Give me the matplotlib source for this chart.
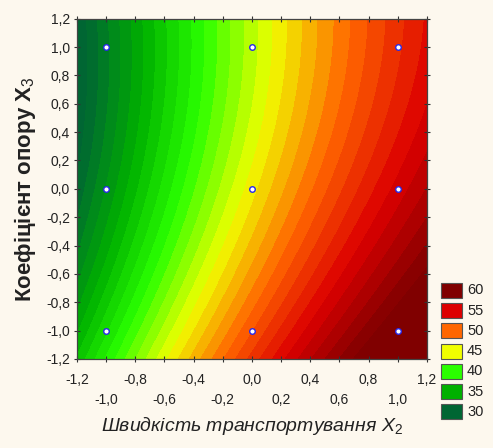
import numpy as np
import matplotlib
matplotlib.use("Agg")
import matplotlib.pyplot as plt
from matplotlib.colors import LinearSegmentedColormap, Normalize
from matplotlib.patches import Rectangle

plt.rcParams['font.family'] = ['Liberation Sans', 'DejaVu Sans']
plt.rcParams['mathtext.fontset'] = 'custom'
plt.rcParams['mathtext.rm'] = 'Liberation Sans'
plt.rcParams['mathtext.it'] = 'Liberation Sans:italic'

# design points (X2, X3) and response
x2_design = [-1, 0, 1]
x3_design = [1, 0, -1]
response = [
    [32.0, 43.5, 52.5],   # X3 = 1
    [32.5, 45.5, 56.0],   # X3 = 0
    [38.0, 51.0, 61.0],   # X3 = -1
]

legend_values = [30, 35, 40, 45, 50, 55, 60]
legend_colors = ['#006633', '#00B000', '#2AFF00', '#F0FF00', '#FF6600', '#DC0000', '#800000']

xticks = [-1.2, -1.0, -0.8, -0.6, -0.4, -0.2, 0.0, 0.2, 0.4, 0.6, 0.8, 1.0, 1.2]
yticks = [-1.2, -1.0, -0.8, -0.6, -0.4, -0.2, 0.0, 0.2, 0.4, 0.6, 0.8, 1.0, 1.2]

# fit full quadratic response surface to design points
X2, X3 = np.meshgrid(x2_design, x3_design)
Y = np.array(response)
def design(a, b):
    return np.column_stack([np.ones_like(a), a, b, a * b, a**2, b**2])
coef, *_ = np.linalg.lstsq(design(X2.ravel().astype(float), X3.ravel().astype(float)), Y.ravel(), rcond=None)

g2, g3 = np.meshgrid(np.linspace(-1.2, 1.2, 300), np.linspace(-1.2, 1.2, 300))
Z = (design(g2.ravel(), g3.ravel()) @ coef).reshape(g2.shape)

vmin, vmax = legend_values[0], legend_values[-1]
cmap = LinearSegmentedColormap.from_list(
    'sg', [((v - vmin) / (vmax - vmin), c) for v, c in zip(legend_values, legend_colors)])
norm = Normalize(vmin, vmax, clip=True)

bg = '#FDF8EE'
fig = plt.figure(figsize=(4.93, 4.48), dpi=100, facecolor=bg)
ax = fig.add_axes([0.156, 0.199, 0.710, 0.759])
levels = np.arange(np.floor(Z.min()) - 1, np.ceil(Z.max()) + 2, 1.0)
ax.contourf(g2, g3, Z, levels=levels, cmap=cmap, norm=norm, antialiased=False)

ax.scatter(X2.ravel(), X3.ravel(), s=16, facecolor='white', edgecolor='#2828E8', linewidth=1.0, zorder=5)

ax.set_xlim(-1.2, 1.2)
ax.set_ylim(-1.2, 1.2)
ax.set_xticks(xticks)
ax.set_yticks(yticks)
fmt = lambda v: f"{v:.1f}".replace('.', ',').replace('-0,0', '0,0')
ax.set_xticklabels([fmt(v) for v in xticks], fontsize=10, color='#222222')
ax.set_yticklabels([fmt(v) for v in yticks], fontsize=10, color='#222222')
ax.tick_params(direction='inout', length=4, width=0.8, top=True, right=True, color='#333333', pad=3)
for i, t in enumerate(ax.xaxis.get_major_ticks()):
    t.set_pad(8.3 if i % 2 == 0 else 22.7)
for s in ax.spines.values():
    s.set_color('#444444')
    s.set_linewidth(0.9)

ax.set_xlabel("Швидкість транспортування X$_{\\mathit{2}}$", fontsize=14, fontstyle='italic', color='#222222', labelpad=6)
ax.set_ylabel("Коефіцієнт опору X$_3$", fontsize=16, fontweight='bold', color='#222222', labelpad=6)

# legend
W, H = 493.0, 448.0
for i, (v, c) in enumerate(zip(legend_values[::-1], legend_colors[::-1])):
    top = 283 + i * 20.2
    fig.add_artist(Rectangle((441 / W, 1 - (top + 15) / H), 21 / W, 15 / H,
                             transform=fig.transFigure, facecolor=c, edgecolor='#555555', linewidth=0.8))
    fig.text(467 / W, 1 - (top + 7.5) / H, str(v), fontsize=10.5, va='center', ha='left', color='#222222')

fig.savefig('out.png', dpi=100, facecolor=bg)
